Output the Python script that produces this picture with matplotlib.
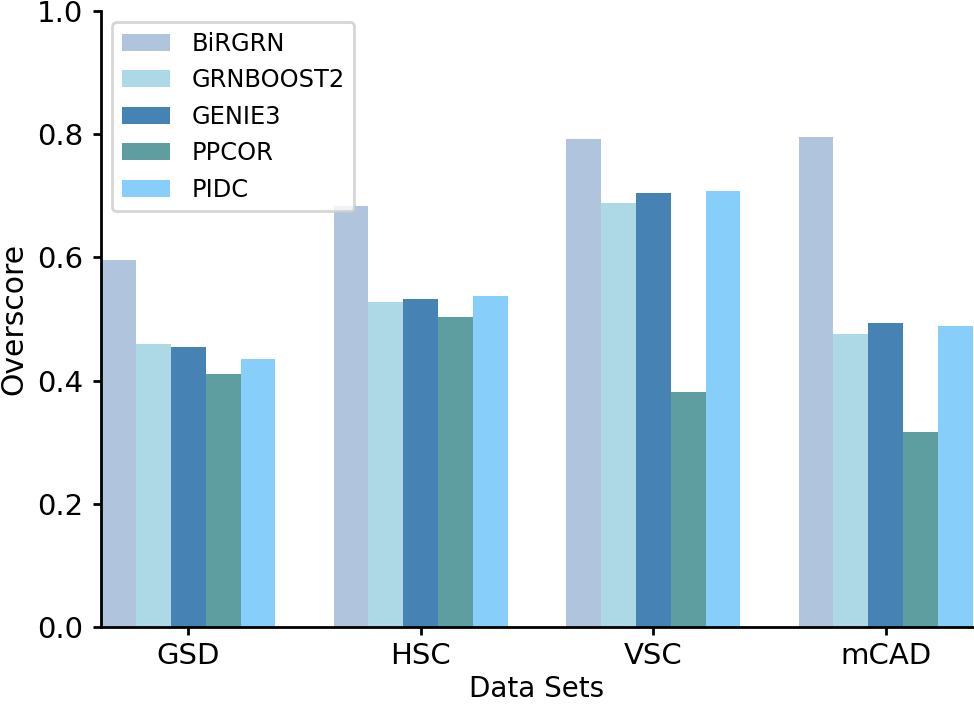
import matplotlib
matplotlib.use("Agg")
import matplotlib.pyplot as plt
import numpy as np

datasets = ["GSD", "HSC", "VSC", "mCAD"]
methods = ["BiRGRN", "GRNBOOST2", "GENIE3", "PPCOR", "PIDC"]
birgrn = [0.596, 0.683, 0.793, 0.795]
grnboost2 = [0.460, 0.528, 0.688, 0.476]
genie3 = [0.454, 0.532, 0.704, 0.493]
ppcor = [0.411, 0.504, 0.381, 0.317]
pidc = [0.435, 0.538, 0.708, 0.489]
values = [birgrn, grnboost2, genie3, ppcor, pidc]
colors = ["lightsteelblue", "lightblue", "steelblue", "cadetblue", "lightskyblue"]

fig = plt.figure(figsize=(9.74, 7.04), dpi=100)
ax = fig.add_axes([101/974, 1 - 627/704, 872/974, 616/704])

x = np.arange(len(datasets))
w = 0.15
for i, (m, v, c) in enumerate(zip(methods, values, colors)):
    ax.bar(x + (i - 2) * w, v, width=w, color=c, label=m)

ax.set_xlim(-0.375, 3.375)
ax.set_ylim(0, 1.0)
ax.set_xticks(x)
ax.set_xticklabels(datasets)
ax.set_yticks([0.0, 0.2, 0.4, 0.6, 0.8, 1.0])
ax.tick_params(axis="both", labelsize=21, width=2, length=6)
ax.tick_params(axis="y", pad=7)
ax.tick_params(axis="x", pad=5)
for s in ["top", "right"]:
    ax.spines[s].set_visible(False)
for s in ["left", "bottom"]:
    ax.spines[s].set_linewidth(2)
ax.set_xlabel("Data Sets", fontsize=20, labelpad=3.5)
ax.set_ylabel("Overscore", fontsize=21.5, labelpad=6)

leg = ax.legend(loc="upper left", fontsize=17.4, frameon=True, handlelength=2.0,
                handletextpad=0.9, labelspacing=0.52, borderaxespad=0.45)
leg.get_frame().set_linewidth(2)
leg.get_frame().set_edgecolor("#cccccc")

fig.savefig("out.png", dpi=100)
